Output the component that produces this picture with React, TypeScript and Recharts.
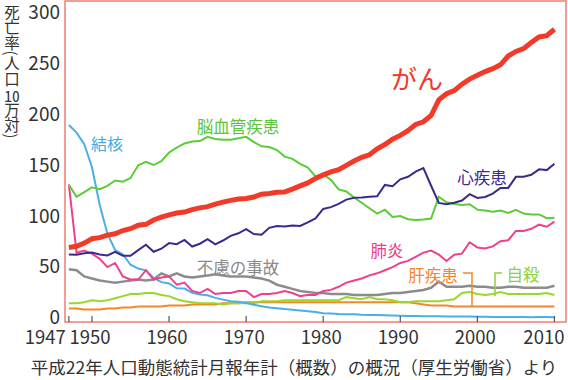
import { Line, LineChart, ReferenceArea, XAxis, YAxis } from "recharts";

// 死亡率（人口10万対）, 1947-2010
const years = [
  1947, 1948, 1949, 1950, 1951, 1952, 1953, 1954, 1955, 1956, 1957, 1958, 1959,
  1960, 1961, 1962, 1963, 1964, 1965, 1966, 1967, 1968, 1969, 1970, 1971, 1972,
  1973, 1974, 1975, 1976, 1977, 1978, 1979, 1980, 1981, 1982, 1983, 1984, 1985,
  1986, 1987, 1988, 1989, 1990, 1991, 1992, 1993, 1994, 1995, 1996, 1997, 1998,
  1999, 2000, 2001, 2002, 2003, 2004, 2005, 2006, 2007, 2008, 2009, 2010,
];

const cancer = [
  69.0, 70.1, 73.2, 77.4, 78.5, 80.9, 82.2, 85.3, 87.1, 90.4, 91.3, 95.5, 98.2,
  100.4, 102.3, 103.2, 105.5, 107.2, 108.4, 110.8, 112.7, 114.5, 115.7, 116.3, 117.7, 120.4,
  121.2, 122.2, 122.6, 125.3, 128.4, 131.3, 135.7, 139.1, 142.0, 144.2, 148.3, 152.5, 156.1,
  158.5, 164.2, 168.4, 173.6, 177.2, 181.7, 187.8, 190.4, 196.4, 211.6, 217.5, 220.4, 226.7,
  231.6, 235.2, 238.8, 241.7, 245.4, 253.9, 258.3, 261.0, 266.9, 272.3, 273.5, 279.7,
];

const heart = [
  62.2, 62.0, 63.4, 64.2, 62.2, 61.2, 64.8, 61.0, 60.9, 66.4, 71.6, 64.8, 67.8,
  73.2, 72.1, 76.2, 69.9, 72.6, 77.0, 71.9, 75.7, 80.2, 82.7, 86.7, 82.0, 81.2,
  87.9, 89.8, 89.2, 90.3, 89.8, 93.3, 97.1, 106.2, 107.9, 111.0, 115.2, 116.9, 117.3,
  117.9, 118.4, 129.4, 128.1, 134.8, 137.2, 142.2, 145.6, 128.6, 112.0, 110.8, 112.2, 114.3,
  120.4, 116.8, 117.8, 121.0, 126.5, 126.5, 137.2, 137.2, 139.2, 144.4, 143.7, 149.8,
];

const stroke = [
  129.4, 117.9, 122.5, 127.1, 125.2, 128.5, 133.7, 132.4, 136.1, 148.4, 151.7, 148.6, 152.4,
  160.7, 165.4, 169.4, 171.4, 171.7, 175.8, 173.8, 173.1, 173.1, 174.4, 175.8, 170.8, 166.7,
  166.0, 163.0, 156.7, 154.5, 149.8, 146.2, 137.7, 139.5, 134.3, 125.0, 123.0, 117.2, 112.2,
  106.9, 101.7, 105.5, 98.5, 99.4, 96.2, 95.6, 96.0, 96.9, 117.9, 112.6, 111.0, 110.0,
  110.8, 105.5, 104.7, 103.4, 104.7, 102.3, 105.3, 101.7, 100.8, 100.9, 97.2, 97.7,
];

const pneumonia = [
  130, 64, 66, 63, 58, 50, 54, 41, 38, 38, 47, 38, 40,
  41, 33, 35, 27, 25, 29, 24, 25, 25, 27, 27, 21, 24,
  24, 25, 27, 25, 22, 23, 23, 27, 28, 31, 35, 37, 39,
  42, 44, 47, 50, 54, 56, 60, 64, 66, 62, 56, 62, 63,
  74, 69, 68, 70, 75, 76, 85, 85, 87, 91, 89, 94,
];

const accident = [
  48, 47, 41, 39, 37, 36, 35, 36, 37, 38, 37, 38, 44,
  41, 44, 41, 40, 41, 42, 43, 42, 41, 41, 41, 40, 39,
  37, 33, 31, 29, 27, 26, 25, 25, 24, 24, 24, 23, 23,
  23, 23, 24, 25, 25, 26, 27, 28, 30, 36, 31, 31, 31,
  32, 31, 31, 30, 30, 31, 31, 30, 30, 30, 30, 32,
];

const tuberculosis = [
  187.2, 179.9, 168.8, 146.4, 110.3, 82.2, 66.5, 62.4, 52.3, 48.6, 46.9, 39.6, 35.5,
  34.2, 29.6, 29.3, 25.3, 23.6, 22.8, 20.3, 18.6, 17.0, 16.5, 15.4, 13.6, 12.3,
  11.1, 10.3, 9.5, 8.9, 8.2, 7.4, 6.7, 5.5, 5.2, 4.7, 4.6, 4.5, 3.9,
  3.8, 3.7, 3.4, 3.2, 3.0, 2.7, 2.8, 2.6, 2.5, 2.6, 2.3, 2.2, 2.2,
  2.3, 2.1, 2.0, 1.8, 1.9, 1.8, 1.8, 1.8, 1.7, 1.8, 1.8, 1.7,
];

const liver = [
  10, 10, 9, 9, 9, 10, 10, 11, 11, 12, 12, 12, 12,
  13, 13, 13, 14, 14, 14, 14, 15, 15, 15, 16, 16, 16,
  16, 16, 16, 16, 16, 16, 16, 16, 16, 16, 16, 16, 16,
  16, 16, 16, 16, 16, 16, 15, 14, 13, 13, 13, 12, 12,
  12, 12, 12, 12, 12, 12, 12, 12, 12, 12, 12, 12,
];

const suicide = [
  15, 15, 16, 18, 17, 18, 20, 22, 24, 24, 25, 25, 23,
  22, 19, 17, 16, 15, 15, 15, 14, 15, 15, 15, 15, 17,
  17, 17, 18, 18, 18, 18, 18, 18, 18, 18, 21, 20, 19,
  21, 19, 19, 18, 16, 16, 17, 17, 17, 17, 18, 19, 25,
  26, 24, 23, 24, 26, 24, 24, 24, 24, 24, 25, 23,
];

const xTicks = [1947, 1950, 1960, 1970, 1980, 1990, 2000, 2010];
const yTicks = [0, 50, 100, 150, 200, 250, 300];

const data = years.map((year, i) => ({
  year,
  cancer: cancer[i],
  heart: heart[i],
  stroke: stroke[i],
  pneumonia: pneumonia[i],
  accident: accident[i],
  tuberculosis: tuberculosis[i],
  liver: liver[i],
  suicide: suicide[i],
}));

const FONT = '"Noto Sans CJK JP", "Noto Sans", sans-serif';

const XTick = (props: any) => {
  const { x, y, payload } = props;
  const v = payload.value;
  // first and last labels are pushed inward like the original
  let tx = x - 2;
  let anchor = "middle";
  if (v === 1947) {
    tx = x - 3;
    anchor = "end";
  } else if (v === 2010) {
    tx = x + 10;
    anchor = "end";
  }
  return (
    <g>
      <line x1={x} x2={x} y1={y} y2={y - 6} stroke="#555" strokeWidth={1.2} />
      <text
        x={tx}
        y={y + 14}
        textAnchor={anchor}
        dominantBaseline="central"
        fill="#333"
        fontSize={18.5}
        fontFamily={FONT}>
        {v}
      </text>
    </g>
  );
};

const YTick = (props: any) => {
  const { x, y, payload } = props;
  const v = payload.value;
  // labels in the source sit a little tighter than the data grid
  const dy = -3 + (5 * v) / 300;
  return (
    <text
      x={x}
      y={y + dy}
      textAnchor="end"
      dominantBaseline="central"
      fill="#333"
      fontSize={19}
      fontFamily={FONT}>
      {v}
    </text>
  );
};

const labels = [
  { text: "がん", x: 417, y: 77, color: "#f03a2a", size: 26 },
  { text: "結核", x: 107, y: 143, color: "#45a8e2", size: 16 },
  { text: "脳血管疾患", x: 238, y: 126, color: "#5cc43a", size: 16.5 },
  { text: "心疾患", x: 482, y: 177, color: "#3b2a8c", size: 16.5 },
  { text: "肺炎", x: 387, y: 250, color: "#ee3c8a", size: 16.5 },
  { text: "不慮の事故", x: 238, y: 267, color: "#8a8a8a", size: 16.5 },
  { text: "肝疾患", x: 433, y: 275, color: "#f5862a", size: 16.5 },
  { text: "自殺", x: 523, y: 274, color: "#8fd23a", size: 16.5 },
];

export default function App() {
  return (
    <div
      style={{
        position: "absolute",
        left: 0,
        top: 0,
        width: 568,
        height: 380,
        background: "#fff",
        fontFamily: FONT,
      }}>
      <LineChart width={568} height={380} data={data} margin={{ top: 1, right: 2, left: 0, bottom: 0 }}>
        <XAxis
          dataKey="year"
          type="number"
          domain={[1946.5, 2011.5]}
          ticks={xTicks}
          interval={0}
          axisLine={false}
          tickLine={false}
          tickSize={0}
          tickMargin={0}
          height={58}
          tick={<XTick />}
        />
        <YAxis
          type="number"
          domain={[-3, 307]}
          ticks={yTicks}
          interval={0}
          allowDataOverflow
          axisLine={false}
          tickLine={false}
          tickSize={0}
          tickMargin={5}
          width={65}
          tick={<YTick />}
        />
        <ReferenceArea x1={1946.5} x2={2011.5} y1={-3} y2={307} fill="none" stroke="#ef7d70" strokeWidth={1.5} />
        <Line type="linear" dataKey="liver" stroke="#f5862a" strokeWidth={2} dot={false} isAnimationActive={false} />
        <Line type="linear" dataKey="suicide" stroke="#98d82e" strokeWidth={2} dot={false} isAnimationActive={false} />
        <Line type="linear" dataKey="tuberculosis" stroke="#4aaee8" strokeWidth={2} dot={false} isAnimationActive={false} />
        <Line type="linear" dataKey="accident" stroke="#8c8c8c" strokeWidth={2.5} dot={false} isAnimationActive={false} />
        <Line type="linear" dataKey="pneumonia" stroke="#f0408c" strokeWidth={2} dot={false} isAnimationActive={false} />
        <Line type="linear" dataKey="stroke" stroke="#5ccc38" strokeWidth={2} dot={false} isAnimationActive={false} />
        <Line type="linear" dataKey="heart" stroke="#3b2a8c" strokeWidth={2} dot={false} isAnimationActive={false} />
        <Line type="linear" dataKey="cancer" stroke="#f23a28" strokeWidth={5} dot={false} isAnimationActive={false} />
      </LineChart>

      <svg
        width={568}
        height={380}
        style={{ position: "absolute", left: 0, top: 0, pointerEvents: "none" }}>
        {labels.map((l) => (
          <text
            key={l.text}
            x={l.x}
            y={l.y}
            textAnchor="middle"
            dominantBaseline="central"
            fill={l.color}
            fontSize={l.size}
            fontFamily={FONT}>
            {l.text}
          </text>
        ))}
        <polyline points="463,273 472,273 472,307" fill="none" stroke="#f5862a" strokeWidth={1.5} />
        <polyline points="502,273 495,273 495,296" fill="none" stroke="#8fd23a" strokeWidth={1.5} />
        <text x={294} y={366} textAnchor="middle" dominantBaseline="central" fill="#333" fontSize={17.5} fontFamily={FONT}>
          平成22年人口動態統計月報年計（概数）の概況（厚生労働省）より
        </text>
      </svg>

      <div
        style={{
          position: "absolute",
          left: 4,
          top: 4,
          writingMode: "vertical-rl",
          fontSize: 15.5,
          lineHeight: "16px",
          color: "#333",
          fontFamily: FONT,
        }}>
        死亡率(人口<span style={{ textCombineUpright: "all" } as any}>10</span>万対)
      </div>
    </div>
  );
}
